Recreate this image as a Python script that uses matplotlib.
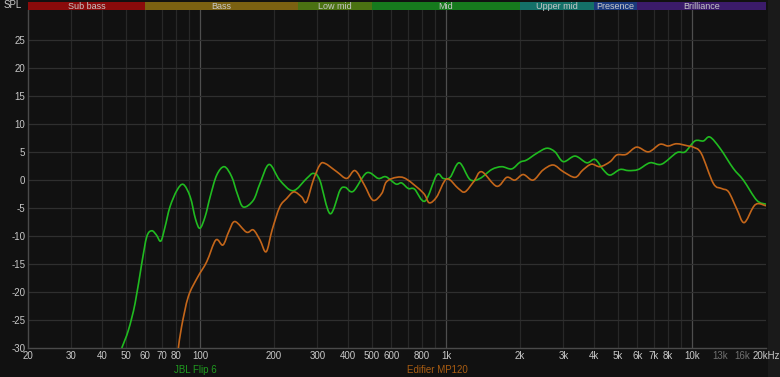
import numpy as np
import matplotlib.pyplot as plt
from matplotlib.path import Path
from matplotlib.patches import PathPatch
from matplotlib.ticker import FixedLocator, NullFormatter

plt.rcParams["font.family"] = ["Liberation Sans", "DejaVu Sans"]

# ---- data ----
jbl_f = [48.1, 51.2, 54.5, 58, 60.8, 63.7, 66.5, 69.3, 72, 75.5, 80.7, 85.6, 91.3, 96, 100,
         105, 110, 117, 125.6, 134.6, 142, 150, 164.8, 175.4, 191, 211, 239, 271.5, 289, 307,
         338, 371, 390, 420, 476, 531, 570, 626, 660, 703, 745, 822, 917, 975, 1040, 1133,
         1253, 1375, 1535, 1686, 1850, 2000, 2130, 2340, 2570, 2775, 3000, 3350, 3735, 4040,
         4370, 4650, 5100, 5520, 6050, 6750, 7530, 8670, 9380, 10280, 11130, 11830, 13000,
         14720, 16180, 18340, 20000]
jbl_db = [-30, -26.8, -22, -14.9, -10.1, -9.05, -9.8, -10.9, -8.5, -4.8, -1.8, -0.77, -3, -7, -8.6,
          -6.5, -3, 0.9, 2.4, 0.6, -2.5, -4.8, -3.6, -0.6, 2.8, 0, -1.9, 0.3, 1.2, 0,
          -6, -1.8, -1.3, -2, 1.3, 0.3, 0.6, -0.7, -0.5, -1.5, -1.6, -3.75, 0.9, 0.3, 0.5, 3.1,
          0.1, 0.3, 1.9, 2.4, 2.0, 3.2, 3.6, 4.8, 5.7, 5.05, 3.3, 4.3, 3.1, 3.7,
          1.8, 0.9, 1.9, 1.7, 1.9, 3.1, 2.85, 4.9, 5.05, 7.0, 7.0, 7.7, 5.7,
          2.1, 0, -3.6, -4.3]

edi_f = [81.7, 84.2, 89.7, 97.7, 106.5, 116, 124, 131, 138.7, 154.6, 164.8, 175.4, 185.9, 196.5,
         211, 225, 241, 259, 271, 289, 307, 322, 360, 395, 427, 465, 505, 548, 573, 631, 690,
         809, 855, 917, 1007, 1123, 1195, 1300, 1397, 1608, 1767, 1905, 2061, 2260, 2480, 2730,
         3000, 3350, 3600, 3900, 4230, 4650, 4950, 5400, 5960, 6660, 7410, 8000, 8670, 9660,
         10100, 10900, 12220, 13200, 14090, 15200, 16290, 17760, 18600, 20000]
edi_db = [-30, -26.2, -20.8, -17.4, -14.6, -10.7, -11.6, -9.2, -7.4, -9.3, -8.9, -10.7, -12.8, -8.9,
          -4.8, -3.3, -2.1, -3, -3.9, 0, 2.7, 3.0, 1.5, 0.3, 1.7, -0.8, -3.6, -2.4, -0.3, 0.5, 0.2,
          -2.3, -4.05, -3, 0.2, -1.5, -2.1, -0.2, 1.5, -1.1, 0.5, 0, 1.0, 0, 1.8, 2.7,
          1.5, 0.5, 1.8, 2.85, 2.4, 3.3, 4.5, 4.6, 5.9, 5.05, 6.4, 6.1, 6.5, 6.1,
          5.9, 4.8, -0.6, -1.5, -2.1, -5.1, -7.6, -4.8, -4.2, -4.6]

bands = ["Sub bass", "Bass", "Low mid", "Mid", "Upper mid", "Presence", "Brilliance"]
band_edges = [20, 60, 250, 500, 2000, 4000, 6000, 20000]
band_colors = ["#8a0b0b", "#7b6111", "#4b7212", "#167a1d", "#147068", "#1b3a7e", "#3b1b6a"]

xtick_vals = [20, 30, 40, 50, 60, 70, 80, 100, 200, 300, 400, 500, 600, 800, 1000, 2000, 3000,
              4000, 5000, 6000, 7000, 8000, 10000, 13000, 16000, 20000]
xtick_labels = ["20", "30", "40", "50", "60", "70", "80", "100", "200", "300", "400", "500",
                "600", "800", "1k", "2k", "3k", "4k", "5k", "6k", "7k", "8k", "10k", "13k",
                "16k", "20kHz"]
ytick_vals = [-30, -25, -20, -15, -10, -5, 0, 5, 10, 15, 20, 25]

BG = "#111111"
GREEN = "#20bb20"
ORANGE = "#c4661a"
TXT = "#c8c8c8"


def smooth_path(f, db):
    """Catmull-Rom through the points, as cubic bezier segments (log-frequency space)."""
    lx = np.log10(np.asarray(f, dtype=float))
    y = np.asarray(db, dtype=float)
    n = len(lx)
    verts = [(f[0], y[0])]
    codes = [Path.MOVETO]
    for i in range(n - 1):
        i0 = max(i - 1, 0)
        i3 = min(i + 2, n - 1)
        c1x = lx[i] + (lx[i + 1] - lx[i0]) / 6.0
        c1y = y[i] + (y[i + 1] - y[i0]) / 6.0
        c2x = lx[i + 1] - (lx[i3] - lx[i]) / 6.0
        c2y = y[i + 1] - (y[i3] - y[i]) / 6.0
        verts += [(10 ** c1x, c1y), (10 ** c2x, c2y), (f[i + 1], y[i + 1])]
        codes += [Path.CURVE4] * 3
    return Path(verts, codes)


W, H = 780, 377
fig = plt.figure(figsize=(W / 100, H / 100), dpi=100, facecolor=BG)

# right strip is a bit lighter
strip = plt.Rectangle((768 / W, 0), 12 / W, 1, transform=fig.transFigure,
                      facecolor="#1a1a1a", edgecolor="none", zorder=-10)
fig.patches.append(strip)

x0, x1 = 28, 766
ytop, ybot = 10, 348
ax = fig.add_axes([x0 / W, (H - ybot) / H, (x1 - x0) / W, (ybot - ytop) / H])
ax.set_facecolor(BG)
ax.set_xscale("log")
ax.set_xlim(20, 20000)
ax.set_ylim(-30, 30.4)

# grid
minor = []
for dec in [10, 100, 1000, 10000]:
    for m in range(1, 10):
        v = dec * m
        if 20 < v < 20000:
            minor.append(v)
for v in minor:
    c = "#4e4e4e" if v in (100, 1000, 10000) else "#282828"
    ax.axvline(v, color=c, lw=0.9, zorder=1)
for v in ytick_vals[1:]:
    ax.axhline(v, color="#2f2f2f", lw=0.9, zorder=1)

for f, db, col in [(jbl_f, jbl_db, GREEN), (edi_f, edi_db, ORANGE)]:
    ax.add_patch(PathPatch(smooth_path(f, db), facecolor="none", edgecolor=col, lw=1.2,
                           zorder=3, joinstyle="round", clip_on=True))

ax.xaxis.set_major_locator(FixedLocator(xtick_vals))
ax.xaxis.set_minor_formatter(NullFormatter())
ax.xaxis.set_minor_locator(FixedLocator([]))
ax.set_xticks(xtick_vals)
ax.set_xticklabels(xtick_labels)
ax.set_yticks(ytick_vals)
ax.set_yticklabels([str(v) for v in ytick_vals])
ax.tick_params(axis="both", length=0, labelsize=7, colors=TXT, pad=2)
for lbl in ax.get_xticklabels():
    if lbl.get_text() in ("13k", "16k"):
        lbl.set_color("#707070")

for s in ["top", "right"]:
    ax.spines[s].set_visible(False)
for s in ["left", "bottom"]:
    ax.spines[s].set_color("#4a4a4a")
    ax.spines[s].set_linewidth(1)

# band bar
bax = fig.add_axes([x0 / W, (H - 10) / H, (x1 - x0) / W, 8 / H])
bax.set_xscale("log")
bax.set_xlim(20, 20000)
bax.set_ylim(0, 1)
bax.axis("off")
for name, lo, hi, col in zip(bands, band_edges[:-1], band_edges[1:], band_colors):
    bax.axvspan(lo, hi, color=col, lw=0)
    bax.text(np.sqrt(lo * hi), 0.45, name, ha="center", va="center", fontsize=6.5, color="#c8c8c8")

fig.text(13 / W, (H - 5) / H, "SPL", ha="center", va="center", fontsize=7, color=TXT)

fig.text(195 / W, (H - 370) / H, "JBL Flip 6", ha="center", va="center", fontsize=7, color="#1f9a1f")
fig.text(437 / W, (H - 370) / H, "Edifier MP120", ha="center", va="center", fontsize=7, color="#a85c12")

fig.savefig("out.png", dpi=100, facecolor=BG)
